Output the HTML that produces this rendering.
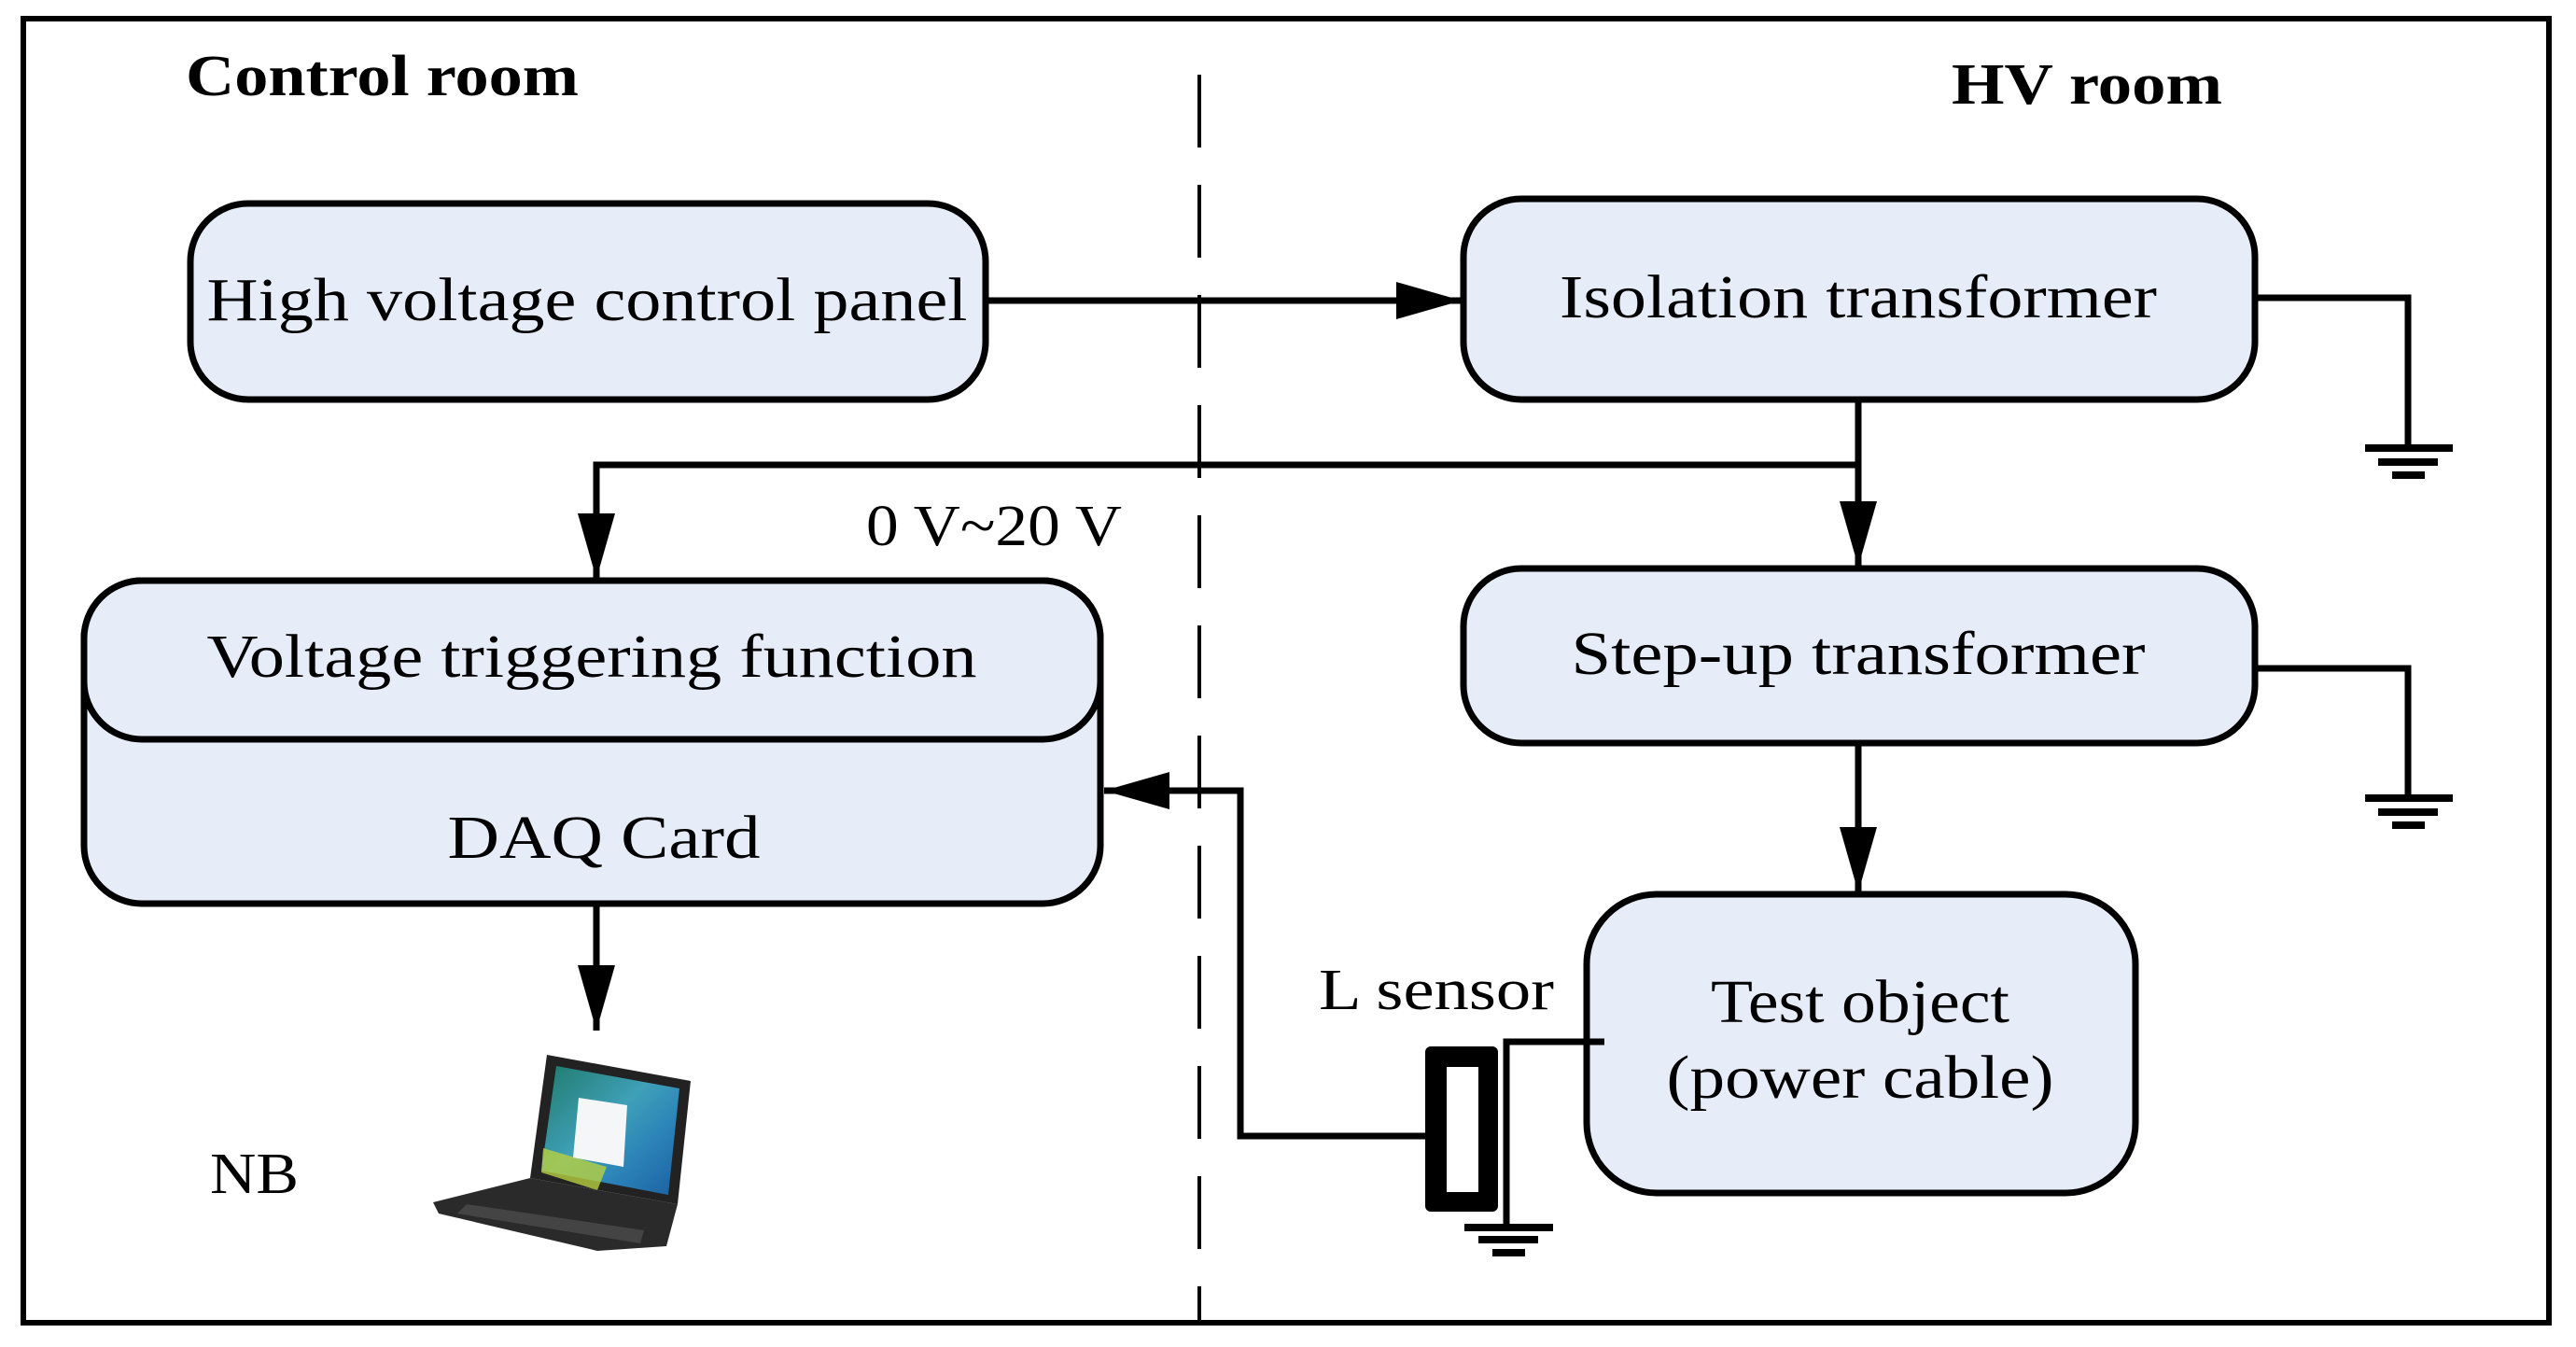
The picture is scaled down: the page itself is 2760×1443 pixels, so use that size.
<!DOCTYPE html>
<html><head><meta charset="utf-8"><style>
html,body{margin:0;padding:0;background:#fff;}
svg{display:block;}
text{font-family:"Liberation Serif",serif;fill:#000;}
</style></head><body>
<svg width="2760" height="1443" viewBox="0 0 2760 1443" xmlns="http://www.w3.org/2000/svg">
<defs>
<marker id="ah" markerWidth="70" markerHeight="40" refX="70" refY="20" orient="auto" markerUnits="userSpaceOnUse">
<path d="M0,0 L70,20 L0,40 Z" fill="#000"/>
</marker>
<linearGradient id="scr" x1="0" y1="0" x2="1" y2="1">
<stop offset="0" stop-color="#1f7a6a"/><stop offset="0.45" stop-color="#3fa0b8"/><stop offset="0.7" stop-color="#2b83b8"/><stop offset="1" stop-color="#1c5fa0"/>
</linearGradient>
</defs>
<!-- outer border -->
<rect x="25" y="20" width="2706" height="1397" fill="none" stroke="#000" stroke-width="6"/>
<!-- dashed divider -->
<line x1="1285" y1="80" x2="1285" y2="1417" stroke="#000" stroke-width="4" stroke-dasharray="78,40"/>
<text x="199" y="102" font-size="62" font-weight="bold" textLength="421" lengthAdjust="spacingAndGlyphs">Control room</text>
<text x="2091" y="111" font-size="62" font-weight="bold" textLength="290" lengthAdjust="spacingAndGlyphs">HV room</text>

<g fill="#e6edf8" stroke="#000" stroke-width="7">
<rect x="204" y="218" width="852" height="210" rx="62"/>
<rect x="1568" y="213" width="848" height="215" rx="62"/>
<rect x="1568" y="609" width="848" height="187" rx="62"/>
<rect x="1700" y="958" width="588" height="320" rx="75"/>
<rect x="90" y="622" width="1089" height="346" rx="62"/>
<rect x="90" y="622" width="1089" height="170" rx="62"/>
</g>

<text x="629" y="343" font-size="66" text-anchor="middle" textLength="815" lengthAdjust="spacingAndGlyphs">High voltage control panel</text>
<text x="1991" y="340" font-size="66" text-anchor="middle" textLength="640" lengthAdjust="spacingAndGlyphs">Isolation transformer</text>
<text x="1991" y="722" font-size="66" text-anchor="middle" textLength="615" lengthAdjust="spacingAndGlyphs">Step-up transformer</text>
<text x="1993" y="1095" font-size="66" text-anchor="middle" textLength="320" lengthAdjust="spacingAndGlyphs">Test object</text>
<text x="1993" y="1176" font-size="66" text-anchor="middle" textLength="415" lengthAdjust="spacingAndGlyphs">(power cable)</text>
<text x="634" y="725" font-size="66" text-anchor="middle" textLength="825" lengthAdjust="spacingAndGlyphs">Voltage triggering function</text>
<text x="647" y="919" font-size="66" text-anchor="middle" textLength="335" lengthAdjust="spacingAndGlyphs">DAQ Card</text>
<text x="928" y="584" font-size="62" textLength="274" lengthAdjust="spacingAndGlyphs">0 V~20 V</text>
<text x="1413" y="1081" font-size="62" textLength="252" lengthAdjust="spacingAndGlyphs">L sensor</text>
<text x="225" y="1278" font-size="62" textLength="95" lengthAdjust="spacingAndGlyphs">NB</text>

<g stroke="#000" stroke-width="7" fill="none">
<line x1="1056" y1="322" x2="1566" y2="322" marker-end="url(#ah)"/>
<line x1="1991" y1="428" x2="1991" y2="607" marker-end="url(#ah)"/>
<polyline points="1991,498 639,498 639,620" marker-end="url(#ah)"/>
<line x1="1991" y1="796" x2="1991" y2="956" marker-end="url(#ah)"/>
<line x1="639" y1="968" x2="639" y2="1104" marker-end="url(#ah)"/>
<polyline points="1527,1217 1329,1217 1329,847 1183,847" marker-end="url(#ah)"/>
<polyline points="2416,319 2580,319 2580,479"/>
<polyline points="2416,716 2580,716 2580,854"/>
<polyline points="1719,1116 1614,1116 1614,1314"/>
</g>
<!-- grounds -->
<g fill="#000">
<rect x="2534" y="476" width="94" height="8"/><rect x="2548" y="491" width="64" height="8"/><rect x="2563" y="505" width="35" height="8"/>
<rect x="2534" y="851" width="94" height="8"/><rect x="2548" y="866" width="64" height="8"/><rect x="2563" y="880" width="35" height="8"/>
<rect x="1569" y="1311" width="95" height="8"/><rect x="1584" y="1324" width="64" height="8"/><rect x="1599" y="1338" width="35" height="8"/>
</g>
<!-- sensor -->
<rect x="1527" y="1121" width="78" height="177" rx="6" fill="#000"/>
<rect x="1550" y="1143" width="34" height="134" fill="#fff"/>

<!-- laptop -->
<g>
<polygon points="586,1130 740,1158 726,1290 568,1262" fill="#222"/>
<polygon points="596,1142 728,1166 716,1280 580,1254" fill="url(#scr)"/>
<polygon points="582,1230 650,1250 640,1275 580,1256" fill="#b8d040" opacity="0.8"/>
<polygon points="620,1176 672,1184 668,1250 614,1240" fill="#f4f6f8"/>
<polygon points="568,1262 726,1290 714,1335 640,1340 470,1300 464,1288" fill="#2a2a2a"/>
<polygon points="500,1290 690,1318 686,1332 490,1300" fill="#444"/>
</g>
</svg>
</body></html>
